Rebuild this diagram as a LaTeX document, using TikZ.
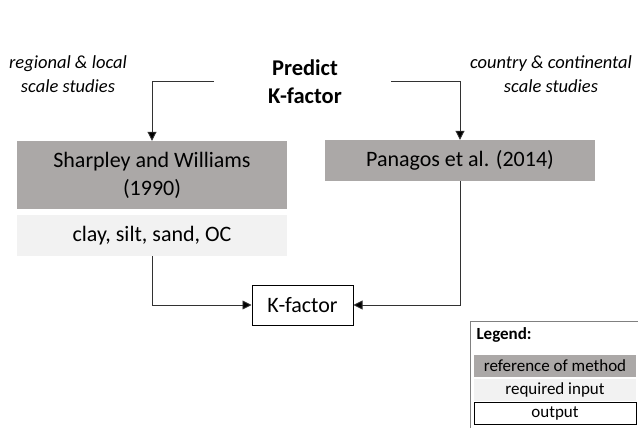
\documentclass[tikz,border=0pt]{standalone}
\usepackage{fontspec}
\setmainfont{Carlito}
\usepackage{xcolor}
\usepackage{tikz}
\usetikzlibrary{arrows.meta, positioning}
\definecolor{methodgray}{RGB}{171,168,167}
\definecolor{inputgray}{RGB}{242,242,242}
\definecolor{linegray}{RGB}{50,50,50}

\begin{document}
\begin{tikzpicture}[x=1pt, y=-1pt,
    methodbox/.style={fill=methodgray, minimum width=270pt, inner sep=0pt, align=center, font=\fontsize{22}{28}\selectfont},
    inputbox/.style={fill=inputgray, minimum width=270pt, inner sep=0pt, align=center, font=\fontsize{22}{28}\selectfont},
    outputbox/.style={draw=black, line width=1pt, fill=white, minimum width=101pt, minimum height=40pt, inner sep=0pt, font=\fontsize{22}{28}\selectfont},
    scaletext/.style={align=center, font=\fontsize{18.5}{24}\selectfont\itshape},
    link/.style={linegray, line width=0.9pt, -{Triangle[length=9pt, width=9pt, fill=black]}},
    legendrow/.style={minimum width=162pt, minimum height=22pt, inner sep=0pt, font=\fontsize{17}{20}\selectfont}]
  \useasboundingbox (0,0) rectangle (638,428);
  % title and scale notes
  \node[align=center, font=\fontsize{22.5}{28}\selectfont\bfseries] (predict) at (305,82) {Predict\\K-factor};
  \node[scaletext] (regional) at (68,74) {regional \& local\\scale studies};
  \node[scaletext] (country) at (551,74) {country \& continental\\scale studies};
  % method boxes
  \node[methodbox, minimum height=68pt] (sharpley) at (152,175) {Sharpley and Williams\\(1990)};
  \node[inputbox, minimum height=41pt] (input) at (152,235.5) {clay, silt, sand, OC};
  \node[methodbox, minimum height=41pt] (panagos) at (460,160.5) {Panagos et al. (2014)};
  \node[outputbox] (kfactor) at (302.5,305) {K-factor};
  % connectors
  \coordinate (predL) at (214,81);
  \coordinate (predR) at (391,81);
  \draw[link] (predL) -| (sharpley.north);
  \draw[link] (predR) -| (panagos.north);
  \draw[link] (input.south) |- (kfactor.west);
  \draw[link] (panagos.south) |- (kfactor.east);
  % legend
  \draw[gray, line width=0.8pt] (470,430) -- (470,321) -- (645,321);
  \node[anchor=west, font=\fontsize{17}{20}\selectfont\bfseries] (legendtitle) at (473,335) {Legend:};
  \node[legendrow, fill=methodgray] (legmethod) at (555,365.5) {reference of method};
  \node[legendrow, fill=inputgray] (leginput) at (555,390) {required input};
  \node[legendrow, draw=black, line width=1pt] (legoutput) at (555,413.5) {output};
\end{tikzpicture}
\end{document}
